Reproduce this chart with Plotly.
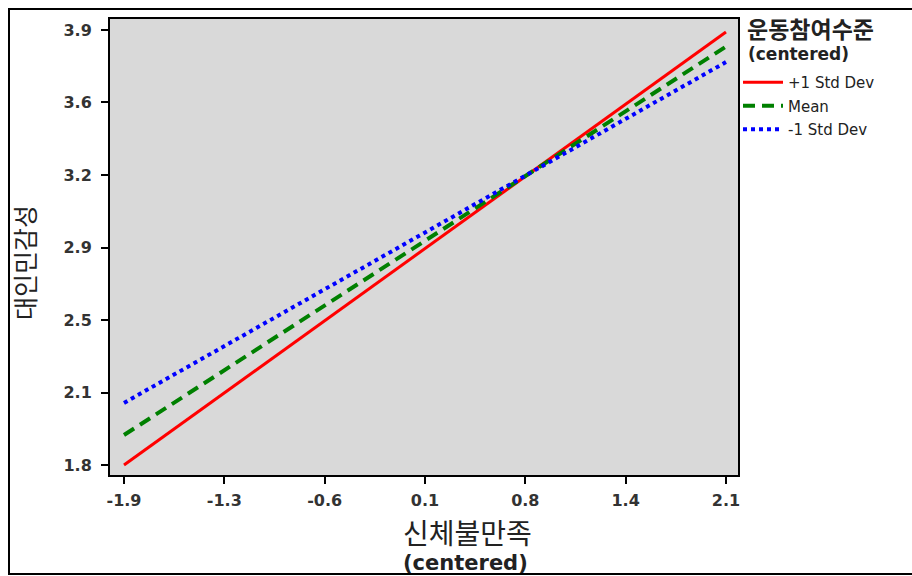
import plotly.graph_objects as go

# Data
x_vals = [-1.9, 2.1]
series_names = ["+1 Std Dev", "Mean", "-1 Std Dev"]
plus_sd = [1.80, 3.89]
mean_vals = [1.945, 3.82]
minus_sd = [2.10, 3.745]
x_tickvals = [-1.9 + k * 4.0 / 6 for k in range(7)]
x_ticktext = ["-1.9", "-1.3", "-0.6", "0.1", "0.8", "1.4", "2.1"]
y_tickvals = [1.8 + k * 0.35 for k in range(7)]
y_ticktext = ["1.8", "2.1", "2.5", "2.9", "3.2", "3.6", "3.9"]

colors = ["#ff0000", "#008000", "#0000ff"]
dashes = ["solid", "12px,7px", "dot"]
widths = [3, 4, 4]

L, R, T, B = 110, 174, 19, 101
W, H = 912, 576
pw, ph = W - L - R, H - T - B


def px_x(px):
    return (px - L) / pw


def px_y(py):
    return (H - B - py) / ph


fig = go.Figure()
for name, yv, c, d, w in zip(series_names, [plus_sd, mean_vals, minus_sd], colors, dashes, widths):
    fig.add_trace(go.Scatter(x=x_vals, y=yv, mode="lines", name=name, legendgroup=name,
                             line=dict(color=c, dash=d, width=w)))

tickfont = dict(family="DejaVu Sans", size=16, color="#333333", weight="bold")
fig.update_layout(
    width=W, height=H,
    margin=dict(l=L, r=R, t=T, b=B, autoexpand=False),
    paper_bgcolor="white", plot_bgcolor="#d9d9d9",
    xaxis=dict(range=[-1.993, 2.18], tickvals=x_tickvals, ticktext=x_ticktext,
               showgrid=False, zeroline=False, ticks="outside", ticklen=7, tickwidth=2,
               tickcolor="black", showline=True, linecolor="black", linewidth=2,
               mirror=True, tickfont=tickfont, ticklabelstandoff=3),
    yaxis=dict(range=[1.752, 3.953], tickvals=y_tickvals, ticktext=y_ticktext,
               showgrid=False, zeroline=False, ticks="outside", ticklen=7, tickwidth=2,
               tickcolor="black", showline=True, linecolor="black", linewidth=2,
               mirror=True, tickfont=tickfont, ticklabelstandoff=6),
    legend=dict(x=px_x(738), xanchor="left", y=px_y(66), yanchor="top",
                font=dict(family="DejaVu Sans", size=15, color="#222222"),
                tracegroupgap=1, itemwidth=40, bgcolor="rgba(0,0,0,0)", borderwidth=0),
    showlegend=True,
)

# Legend title
fig.add_annotation(xref="paper", yref="paper", x=px_x(745), y=px_y(28),
                   xanchor="left", yanchor="middle", showarrow=False,
                   text="운동참여수준",
                   font=dict(family="Noto Sans CJK KR", size=23, color="#222222", weight="bold"))
fig.add_annotation(xref="paper", yref="paper", x=px_x(746), y=px_y(54),
                   xanchor="left", yanchor="middle", showarrow=False,
                   text="<b>(centered)</b>",
                   font=dict(family="DejaVu Sans", size=17, color="#222222"))

# Axis titles
fig.add_annotation(xref="paper", yref="paper", x=px_x(401), y=px_y(532),
                   xanchor="left", yanchor="middle", showarrow=False,
                   text="신체불만족",
                   font=dict(family="Noto Sans CJK KR", size=28, color="#222222"))
fig.add_annotation(xref="paper", yref="paper", x=px_x(401), y=px_y(563),
                   xanchor="left", yanchor="middle", showarrow=False,
                   text="<b>(centered)</b>",
                   font=dict(family="DejaVu Sans", size=21, color="#222222"))
fig.add_annotation(xref="paper", yref="paper", x=px_x(24), y=px_y(263),
                   xanchor="center", yanchor="middle", showarrow=False, textangle=-90,
                   text="대인민감성",
                   font=dict(family="Noto Sans CJK KR", size=25, color="#222222"))

# Outer frame
fig.add_shape(type="rect", xref="paper", yref="paper",
              x0=px_x(9), x1=px_x(915), y0=px_y(574), y1=px_y(9),
              line=dict(color="black", width=2), fillcolor="rgba(0,0,0,0)", layer="below")

fig.write_html("out.html", config={"displayModeBar": False},
               post_script="document.body.style.margin='0';document.body.style.overflow='hidden';")
